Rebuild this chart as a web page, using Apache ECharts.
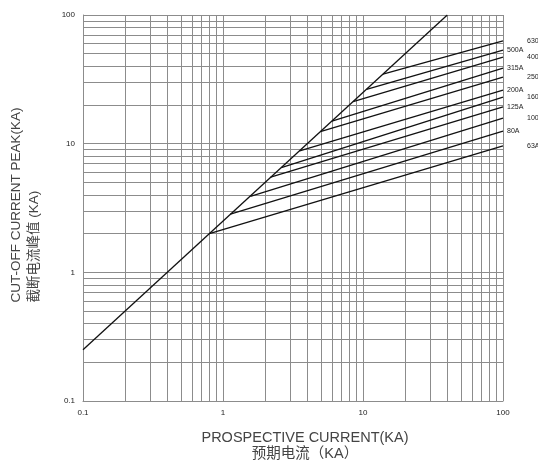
<!DOCTYPE html>
<html>
<head>
<meta charset="utf-8">
<script src="https://cdn.jsdelivr.net/npm/echarts@6/dist/echarts.min.js"></script>
<style>
  html, body { margin: 0; background: #fff; }
  #chart { width: 538px; height: 461px; }
</style>
</head>
<body>
<div id="chart"></div>
<script>
// fuse ratings, cut-off lines start on the limit line and end at 100 kA
const fuseRatings = ['63A', '80A', '100A', '125A', '160A', '200A', '250A', '315A', '400A', '500A', '630A']
const startCurrent = [0.8, 1.13, 1.57, 2.19, 2.61, 3.53, 4.96, 6.0, 8.5, 10.6, 13.9]
const startPeak = [2.0, 2.84, 3.9, 5.5, 6.5, 8.8, 12.4, 15.0, 21.2, 26.4, 34.7]
const endCurrent = 100
const endPeak = [9.6, 12.5, 15.8, 19.3, 23.0, 26.1, 32.9, 38.7, 47.1, 53.4, 62.8]
// peak without fuse
const limitLine = [[0.1, 0.25], [40, 100]]
// minor grid positions
const minorGrid = [0.2, 0.3, 0.4, 0.5, 0.6, 0.7, 0.8, 0.9,
  2, 3, 4, 5, 6, 7, 8, 9,
  20, 30, 40, 50, 60, 70, 80, 90]

const font = "'Liberation Sans', 'Noto Sans CJK SC', sans-serif"
const gridColor = '#8c8c8c'

const myChart = echarts.init(document.getElementById('chart'))

let series = [
  {
    type: 'line',
    data: [],
    silent: true,
    markLine: {
      silent: true,
      symbol: 'none',
      animation: false,
      label: { show: false },
      lineStyle: { color: gridColor, width: 1, type: 'solid' },
      data: minorGrid.map(v => ({ xAxis: v })).concat(minorGrid.map(v => ({ yAxis: v })))
    }
  },
  {
    type: 'line',
    data: limitLine,
    showSymbol: false,
    lineStyle: { color: '#111', width: 1.3 },
    z: 5
  }
]

fuseRatings.forEach((name, i) => {
  series.push({
    name: name,
    type: 'line',
    data: [[startCurrent[i], startPeak[i]], [endCurrent, endPeak[i]]],
    showSymbol: false,
    lineStyle: { color: '#111', width: 1.3 },
    z: 5,
    endLabel: {
      show: true,
      formatter: name,
      distance: i % 2 === 0 ? 24 : 4,
      fontSize: 7,
      fontFamily: font,
      color: '#222'
    }
  })
})

const option = {
  animation: false,
  backgroundColor: '#fff',
  grid: { left: 83, right: 35, top: 15, bottom: 60, containLabel: false, outerBoundsMode: 'none' },
  xAxis: {
    type: 'log',
    logBase: 10,
    min: 0.1,
    max: 100,
    name: 'PROSPECTIVE CURRENT(KA)\n预期电流（KA）',
    nameLocation: 'middle',
    nameGap: 29,
    nameTextStyle: { fontSize: 14.5, fontFamily: font, color: '#444', lineHeight: 16, padding: [0, 0, 0, 24] },
    axisLine: { lineStyle: { color: gridColor, width: 1 } },
    axisTick: { show: false },
    axisLabel: { fontSize: 8, fontFamily: font, color: '#222', margin: 8 },
    splitLine: { show: true, lineStyle: { color: gridColor, width: 1 } }
  },
  yAxis: {
    type: 'log',
    logBase: 10,
    min: 0.1,
    max: 100,
    name: '{en|CUT-OFF CURRENT PEAK(KA)}\n{cn|截断电流峰值 (KA)}',
    nameLocation: 'middle',
    nameGap: 40,
    nameTextStyle: {
      padding: [0, 0, 0, 6],
      rich: {
        en: { align: 'left', fontSize: 13.5, fontFamily: font, color: '#444', lineHeight: 18 },
        cn: { align: 'left', fontSize: 13.5, fontFamily: font, color: '#444', lineHeight: 18 }
      }
    },
    axisLine: { show: true, lineStyle: { color: gridColor, width: 1 } },
    axisTick: { show: false },
    axisLabel: { fontSize: 8, fontFamily: font, color: '#222', margin: 8 },
    splitLine: { show: true, lineStyle: { color: gridColor, width: 1 } }
  },
  series: series
}

myChart.setOption(option)
</script>
</body>
</html>
